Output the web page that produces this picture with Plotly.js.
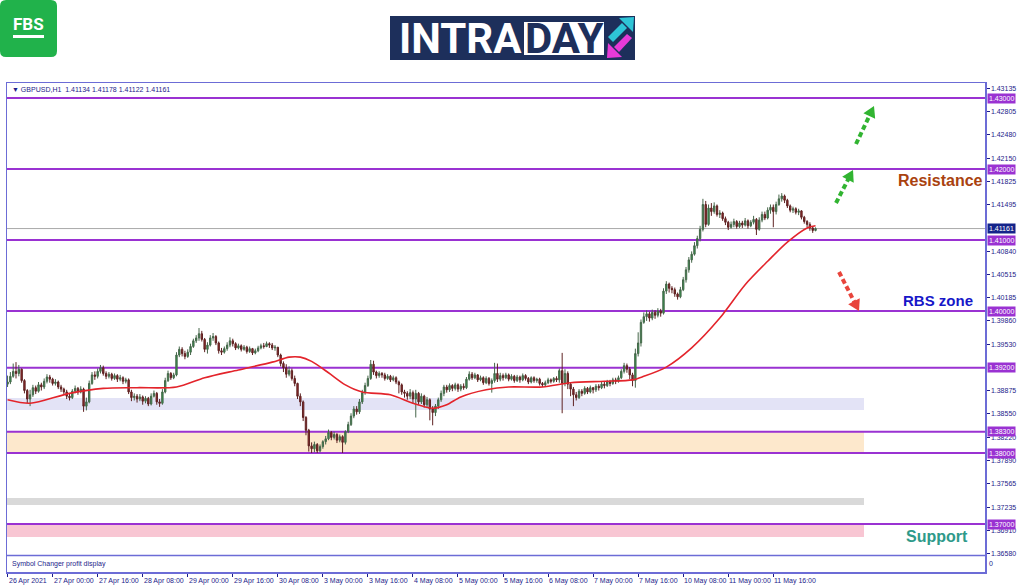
<!DOCTYPE html>
<html><head><meta charset="utf-8">
<script src="https://cdn.plot.ly/plotly-3.0.1.min.js"></script>
<style>html,body{margin:0;padding:0;background:#fff;}#chart{width:1024px;height:587px;}</style>
</head><body><div id="chart"></div>
<script>
// ---- DATA (GBPUSD H1) ----
const firstOpen = 1.3897;
const closes = [
1.3900,1.3908,1.3915,1.3912,1.3918,1.3902,1.3888,1.3876,1.3882,1.3892,1.3887,1.3896,1.3893,1.3901,1.3907,1.3904,
1.3898,1.3900,1.3893,1.3890,1.3886,1.3880,1.3878,1.3887,1.3891,1.3886,1.3890,1.3866,1.3872,1.3898,1.3910,1.3908,
1.3915,1.3920,1.3912,1.3908,1.3911,1.3905,1.3909,1.3904,1.3906,1.3901,1.3903,1.3886,1.3878,1.3880,1.3876,1.3879,
1.3873,1.3877,1.3869,1.3880,1.3884,1.3872,1.3870,1.3886,1.3902,1.3912,1.3906,1.3910,1.3938,1.3946,1.3940,1.3936,
1.3942,1.3950,1.3958,1.3962,1.3968,1.3960,1.3946,1.3952,1.3962,1.3964,1.3955,1.3944,1.3942,1.3947,1.3952,1.3958,
1.3954,1.3948,1.3951,1.3946,1.3949,1.3943,1.3947,1.3941,1.3944,1.3948,1.3951,1.3950,1.3954,1.3952,1.3948,1.3949,
1.3938,1.3926,1.3920,1.3911,1.3916,1.3905,1.3898,1.3880,1.3872,1.3850,1.3832,1.3810,1.3806,1.3812,1.3803,1.3809,
1.3816,1.3820,1.3829,1.3822,1.3826,1.3818,1.3823,1.3815,1.3830,1.3840,1.3852,1.3862,1.3858,1.3872,1.3885,1.3895,
1.3905,1.3925,1.3914,1.3909,1.3912,1.3910,1.3905,1.3908,1.3903,1.3906,1.3900,1.3896,1.3886,1.3884,1.3880,1.3885,
1.3876,1.3884,1.3872,1.3880,1.3868,1.3875,1.3862,1.3857,1.3866,1.3875,1.3884,1.3893,1.3889,1.3895,1.3891,1.3896,
1.3890,1.3894,1.3892,1.3904,1.3911,1.3906,1.3910,1.3903,1.3906,1.3899,1.3905,1.3898,1.3902,1.3912,1.3904,1.3909,
1.3906,1.3910,1.3904,1.3908,1.3902,1.3907,1.3903,1.3909,1.3905,1.3900,1.3906,1.3902,1.3904,1.3898,1.3896,1.3899,
1.3903,1.3901,1.3905,1.3903,1.3916,1.3898,1.3912,1.3897,1.3890,1.3882,1.3878,1.3887,1.3884,1.3891,1.3886,1.3892,
1.3889,1.3894,1.3892,1.3897,1.3895,1.3900,1.3898,1.3903,1.3901,1.3906,1.3915,1.3923,1.3918,1.3910,1.3902,1.3940,
1.3955,1.3984,1.3992,1.3996,1.3990,1.3998,1.3994,1.4000,1.3997,1.4028,1.4038,1.4032,1.4030,1.4024,1.4020,1.4030,
1.4044,1.4058,1.4072,1.4080,1.4092,1.4102,1.4115,1.4150,1.4122,1.4145,1.4140,1.4148,1.4136,1.4138,1.4130,1.4125,
1.4118,1.4122,1.4126,1.4119,1.4124,1.4121,1.4127,1.4120,1.4125,1.4129,1.4115,1.4128,1.4136,1.4131,1.4142,1.4146,
1.4140,1.4150,1.4158,1.4162,1.4156,1.4148,1.4142,1.4144,1.4139,1.4141,1.4132,1.4126,1.4122,1.4117,1.41134,1.41161
];
const highs = [
1.3909,1.3914,1.3926,1.3928,1.3924,1.3919,1.3904,1.3890,1.3889,1.3896,1.3895,1.3900,1.3899,1.3905,1.3911,1.3910,
1.3906,1.3904,1.3902,1.3896,1.3892,1.3889,1.3884,1.3890,1.3895,1.3893,1.3894,1.3892,1.3878,1.3902,1.3914,1.3915,
1.3919,1.3924,1.3923,1.3915,1.3914,1.3913,1.3912,1.3911,1.3910,1.3908,1.3906,1.3905,1.3889,1.3884,1.3883,1.3883,
1.3881,1.3880,1.3879,1.3884,1.3888,1.3886,1.3876,1.3890,1.3906,1.3916,1.3914,1.3913,1.3942,1.3950,1.3949,1.3944,
1.3946,1.3954,1.3961,1.3966,1.3976,1.3972,1.3962,1.3956,1.3966,1.3969,1.3966,1.3957,1.3948,1.3950,1.3956,1.3963,
1.3961,1.3956,1.3954,1.3953,1.3952,1.3951,1.3950,1.3948,1.3947,1.3951,1.3954,1.3955,1.3957,1.3956,1.3955,1.3952,
1.3946,1.3940,1.3929,1.3925,1.3922,1.3919,1.3909,1.3899,1.3884,1.3874,1.3852,1.3834,1.3815,1.3816,1.3814,1.3812,
1.3818,1.3824,1.3833,1.3831,1.3830,1.3828,1.3826,1.3825,1.3832,1.3844,1.3856,1.3866,1.3866,1.3876,1.3889,1.3899,
1.3909,1.3931,1.3930,1.3916,1.3915,1.3914,1.3913,1.3911,1.3910,1.3909,1.3908,1.3902,1.3898,1.3889,1.3887,1.3890,
1.3888,1.3889,1.3886,1.3884,1.3882,1.3879,1.3877,1.3866,1.3869,1.3878,1.3888,1.3896,1.3896,1.3898,1.3897,1.3899,
1.3898,1.3897,1.3898,1.3907,1.3915,1.3914,1.3913,1.3911,1.3909,1.3908,1.3908,1.3907,1.3905,1.3927,1.3926,1.3913,
1.3912,1.3913,1.3912,1.3911,1.3910,1.3910,1.3909,1.3912,1.3911,1.3907,1.3908,1.3908,1.3906,1.3906,1.3900,1.3902,
1.3906,1.3905,1.3907,1.3908,1.3919,1.3941,1.3918,1.3915,1.3899,1.3893,1.3886,1.3890,1.3890,1.3894,1.3893,1.3895,
1.3893,1.3897,1.3897,1.3900,1.3900,1.3903,1.3903,1.3906,1.3906,1.3909,1.3918,1.3927,1.3926,1.3921,1.3913,1.3947,
1.3970,1.3988,1.3998,1.4001,1.3999,1.4002,1.4001,1.4004,1.4003,1.4032,1.4042,1.4040,1.4035,1.4033,1.4026,1.4034,
1.4048,1.4062,1.4076,1.4084,1.4097,1.4106,1.4120,1.4158,1.4155,1.4150,1.4152,1.4153,1.4150,1.4142,1.4140,1.4133,
1.4127,1.4126,1.4130,1.4128,1.4127,1.4127,1.4131,1.4129,1.4128,1.4134,1.4131,1.4132,1.4140,1.4140,1.4146,1.4150,
1.4150,1.4154,1.4164,1.4166,1.4164,1.4158,1.4150,1.4147,1.4146,1.4144,1.4142,1.4134,1.4128,1.4125,1.4119,1.41178
];
const lows = [
1.3893,1.3897,1.3906,1.3905,1.3908,1.3899,1.3884,1.3870,1.3866,1.3879,1.3883,1.3885,1.3888,1.3890,1.3898,1.3899,
1.3895,1.3895,1.3890,1.3886,1.3882,1.3876,1.3874,1.3876,1.3884,1.3882,1.3884,1.3858,1.3860,1.3870,1.3896,1.3903,
1.3905,1.3912,1.3909,1.3904,1.3905,1.3902,1.3903,1.3900,1.3901,1.3897,1.3898,1.3883,1.3873,1.3874,1.3871,1.3873,
1.3868,1.3870,1.3866,1.3867,1.3878,1.3868,1.3865,1.3868,1.3884,1.3900,1.3903,1.3904,1.3908,1.3935,1.3936,1.3932,
1.3934,1.3938,1.3948,1.3955,1.3958,1.3957,1.3942,1.3940,1.3950,1.3958,1.3952,1.3940,1.3938,1.3940,1.3944,1.3949,
1.3950,1.3945,1.3946,1.3943,1.3944,1.3940,1.3941,1.3938,1.3939,1.3942,1.3946,1.3947,1.3949,1.3948,1.3945,1.3944,
1.3935,1.3922,1.3914,1.3906,1.3908,1.3902,1.3894,1.3876,1.3866,1.3845,1.3825,1.3802,1.3800,1.3801,1.3800,1.3801,
1.3806,1.3812,1.3818,1.3818,1.3819,1.3814,1.3815,1.3800,1.3812,1.3828,1.3838,1.3849,1.3854,1.3855,1.3869,1.3882,
1.3893,1.3903,1.3910,1.3905,1.3906,1.3906,1.3902,1.3903,1.3900,1.3901,1.3897,1.3884,1.3882,1.3878,1.3875,1.3876,
1.3870,1.3850,1.3868,1.3869,1.3864,1.3864,1.3846,1.3839,1.3852,1.3862,1.3872,1.3880,1.3885,1.3886,1.3887,1.3888,
1.3886,1.3887,1.3889,1.3890,1.3902,1.3903,1.3904,1.3900,1.3901,1.3896,1.3897,1.3895,1.3885,1.3899,1.3900,1.3901,
1.3902,1.3904,1.3901,1.3902,1.3899,1.3900,1.3899,1.3901,1.3902,1.3897,1.3898,1.3899,1.3899,1.3895,1.3893,1.3894,
1.3897,1.3898,1.3899,1.3900,1.3899,1.3856,1.3894,1.3890,1.3880,1.3866,1.3874,1.3876,1.3880,1.3882,1.3883,1.3884,
1.3884,1.3886,1.3888,1.3890,1.3891,1.3893,1.3894,1.3896,1.3897,1.3899,1.3904,1.3912,1.3913,1.3904,1.3894,1.3892,
1.3936,1.3950,1.3982,1.3986,1.3985,1.3987,1.3989,1.3991,1.3992,1.3995,1.4024,1.4026,1.4025,1.4020,1.4016,1.4018,
1.4028,1.4040,1.4054,1.4068,1.4078,1.4088,1.4098,1.4112,1.4118,1.4120,1.4134,1.4137,1.4133,1.4131,1.4127,1.4121,
1.4114,1.4116,1.4118,1.4116,1.4117,1.4117,1.4119,1.4116,1.4118,1.4122,1.4107,1.4113,1.4125,1.4128,1.4129,1.4137,
1.4118,1.4136,1.4148,1.4154,1.4152,1.4145,1.4139,1.4138,1.4136,1.4135,1.4129,1.4123,1.4118,1.4113,1.4110,1.41122
];
// moving average (red line), sampled at bar indices
const maBar   = [0,8,22,34,46,60,70,82,94,100,104,108,114,120,126,136,144,151,156,161,170,178,190,200,212,222,226,234,243,253,262,270,277,284,287];
const maValue = [1.3875,1.3870,1.3884,1.3891,1.3892,1.3893,1.3906,1.3917,1.3928,1.3935,1.3935,1.3929,1.3913,1.3896,1.3886,1.3882,1.3870,1.3863,1.3868,1.3879,1.3889,1.3893,1.3893,1.3899,1.3901,1.3903,1.3908,1.3921,1.3948,1.3990,1.4037,1.4070,1.4097,1.4117,1.4120];
const timeLabels = ["26 Apr 2021","27 Apr 00:00","27 Apr 16:00","28 Apr 08:00","29 Apr 00:00","29 Apr 16:00","30 Apr 08:00","3 May 00:00","3 May 16:00","4 May 08:00","5 May 00:00","5 May 16:00","6 May 08:00","7 May 00:00","7 May 16:00","10 May 08:00","11 May 00:00","11 May 16:00"];
const barsPerLabel = 16;
const priceTicks = [1.43135,1.42805,1.42480,1.42150,1.41825,1.41495,1.40840,1.40515,1.40185,1.39860,1.39530,1.38875,1.38550,1.38220,1.37890,1.37565,1.37235,1.36910,1.36580];
const keyLevels = [1.43000,1.42000,1.41000,1.40000,1.39200,1.38300,1.38000,1.37000];
const lastPrice = 1.41161;
const zoneLow  = [1.38606,1.38000,1.37268,1.36817];
const zoneHigh = [1.38775,1.38300,1.37366,1.37000];
const headerText = "\u25BC GBPUSD,H1  1.41134 1.41178 1.41122 1.41161";
const subPaneText = "Symbol Changer profit display";

// ---- STYLE / GEOMETRY ----
const zoneColor = ['#e3e3f6','#fde8cc','#d9d9d9','#f8c6d3'];
const frameColor = '#6c6cd6', navy = '#1c1c8a', purple = '#9a32d2';
const L=7,R=985,T=83,B=572,W=R-L,H=B-T;
const px = x => (x-L)/W, py = y => (B-y)/H;
const poly = pts => 'M' + pts.map(p => px(p[0]) + ',' + py(p[1])).join(' L') + ' Z';
function rrect(x0,y0,x1,y1,r){
  return `M${px(x0+r)},${py(y0)} L${px(x1-r)},${py(y0)} Q${px(x1)},${py(y0)} ${px(x1)},${py(y0+r)} L${px(x1)},${py(y1-r)} Q${px(x1)},${py(y1)} ${px(x1-r)},${py(y1)} L${px(x0+r)},${py(y1)} Q${px(x0)},${py(y1)} ${px(x0)},${py(y1-r)} L${px(x0)},${py(y0+r)} Q${px(x0)},${py(y0)} ${px(x0+r)},${py(y0)} Z`;
}

const idx = closes.map((_, i) => i);
const opens = closes.map((c, i) => i === 0 ? firstOpen : closes[i-1]);
const hi = highs.map((h, i) => Math.max(h, opens[i], closes[i]));
const lo = lows.map((l, i) => Math.min(l, opens[i], closes[i]));

const traces = [
  {type:'candlestick', x: idx, open: opens, high: hi, low: lo, close: closes,
   increasing:{line:{color:'#46664a', width:1}, fillcolor:'#2f9a4c'},
   decreasing:{line:{color:'#5e2222', width:1}, fillcolor:'#962828'},
   whiskerwidth:0, hoverinfo:'skip', showlegend:false},
  {type:'scatter', mode:'lines', x: maBar, y: maValue, line:{color:'#e3242b', width:1.6, shape:'spline', smoothing:0.8}, hoverinfo:'skip', showlegend:false}
];

const shapes = [];
zoneLow.forEach((v, k) => shapes.push({type:'rect', xref:'paper', yref:'y', x0:0, x1:px(864), y0:v, y1:zoneHigh[k], fillcolor:zoneColor[k], line:{width:0}, layer:'below'}));
shapes.push({type:'line', xref:'paper', yref:'y', x0:0, x1:1, y0:lastPrice, y1:lastPrice, line:{color:'#a8a8a8', width:1}, layer:'below'});
keyLevels.forEach(v => shapes.push({type:'line', xref:'paper', yref:'y', x0:0, x1:1, y0:v, y1:v, line:{color:purple, width:2}, layer:'below'}));
shapes.push({type:'line', xref:'paper', yref:'paper', x0:0, x1:1, y0:py(555.5), y1:py(555.5), line:{color:frameColor, width:1.5}});

// dashed arrows
function arrow(x0,y0,x1,y1,color){
  const dx=x1-x0, dy=y1-y0, len=Math.hypot(dx,dy), ux=dx/len, uy=dy/len, hl=11, hw=6.5;
  const bx=x1-ux*hl, by=y1-uy*hl;
  shapes.push({type:'line', xref:'paper', yref:'paper', x0:px(x0), y0:py(y0), x1:px(bx+ux), y1:py(by+uy), line:{color, width:4, dash:'5px,3px'}});
  shapes.push({type:'path', xref:'paper', yref:'paper', path:poly([[x1,y1],[bx-uy*hw,by+ux*hw],[bx+uy*hw,by-ux*hw]]), fillcolor:color, line:{width:0}});
}
arrow(836,203,853,170,'#31b431');
arrow(856,144,874,106,'#31b431');
arrow(839,272,859,311,'#e8453c');

// logos
shapes.push({type:'path', xref:'paper', yref:'paper', path:rrect(0,0,57,57,6), fillcolor:'#21b24b', line:{width:0}});
shapes.push({type:'rect', xref:'paper', yref:'paper', x0:px(13), x1:px(44), y0:py(35), y1:py(38), fillcolor:'#ffffff', line:{width:0}});
shapes.push({type:'rect', xref:'paper', yref:'paper', x0:px(390), x1:px(635), y0:py(16), y1:py(60), fillcolor:'#1d2f5b', line:{width:0}});
shapes.push({type:'rect', xref:'paper', yref:'paper', x0:px(524), x1:px(604), y0:py(22), y1:py(55), fillcolor:'#ffffff', line:{width:0}});
shapes.push({type:'path', xref:'paper', yref:'paper', path:poly([[608,37],[613,42],[627,28],[622,23]]), fillcolor:'#2ec4d6', line:{width:0}});
shapes.push({type:'path', xref:'paper', yref:'paper', path:poly([[634,17],[619,18],[633,32]]), fillcolor:'#2ec4d6', line:{width:0}});
shapes.push({type:'path', xref:'paper', yref:'paper', path:poly([[632,38],[627,34],[614,47],[619,52]]), fillcolor:'#e83ad8', line:{width:0}});
shapes.push({type:'path', xref:'paper', yref:'paper', path:poly([[607,58],[608,43],[622,57]]), fillcolor:'#e83ad8', line:{width:0}});

const fnt = (size, color, weight) => ({family:'Liberation Sans, Arial, sans-serif', size, color, weight: weight || 400});
const annotations = [];
keyLevels.forEach(v => annotations.push({xref:'paper', yref:'y', x:1, y:v, xanchor:'left', xshift:2, text:v.toFixed(5), showarrow:false, bgcolor:purple, borderpad:1, font:fnt(7,'#ffffff')}));
annotations.push({xref:'paper', yref:'y', x:1, y:lastPrice, xanchor:'left', xshift:2, text:lastPrice.toFixed(5), showarrow:false, bgcolor:'#14238a', borderpad:1, font:fnt(7,'#ffffff')});
timeLabels.forEach((t, k) => annotations.push({xref:'x', yref:'paper', x:k*barsPerLabel, y:0, yanchor:'top', yshift:-3, xanchor:'left', xshift:-1, text:t, showarrow:false, font:fnt(7, navy)}));
annotations.push({xref:'paper', yref:'paper', x:px(10), y:py(89), xanchor:'left', yanchor:'middle', text:headerText, showarrow:false, font:fnt(7, navy)});
annotations.push({xref:'paper', yref:'paper', x:px(10), y:py(564), xanchor:'left', yanchor:'middle', text:subPaneText, showarrow:false, font:fnt(7, navy)});
annotations.push({xref:'paper', yref:'paper', x:1, xshift:2, y:py(563), xanchor:'left', yanchor:'middle', text:'0', showarrow:false, font:fnt(7, navy)});
annotations.push({xref:'paper', yref:'paper', x:px(985), y:py(180), xanchor:'right', yanchor:'middle', text:'Resistance', showarrow:false, font:fnt(16,'#a9420f',700)});
annotations.push({xref:'paper', yref:'paper', x:px(975), y:py(300), xanchor:'right', yanchor:'middle', text:'RBS zone', showarrow:false, font:fnt(15,'#1717c8',700)});
annotations.push({xref:'paper', yref:'paper', x:px(970), y:py(536), xanchor:'right', yanchor:'middle', text:'Support', showarrow:false, font:fnt(16,'#2e9a8a',700)});
annotations.push({xref:'paper', yref:'paper', x:px(28), y:py(24), xanchor:'center', yanchor:'middle', text:'FBS', showarrow:false, font:{family:'Roboto, Liberation Sans, sans-serif', size:17, color:'#ffffff', weight:700}});
annotations.push({xref:'paper', yref:'paper', x:px(397), y:py(39), xanchor:'left', yanchor:'middle', text:'INTRA', showarrow:false, font:{family:'Roboto, Liberation Sans, sans-serif', size:42, color:'#ffffff', weight:700}});
annotations.push({xref:'paper', yref:'paper', x:px(564), y:py(39), xanchor:'center', yanchor:'middle', text:'DAY', showarrow:false, font:{family:'Roboto, Liberation Sans, sans-serif', size:42, color:'#1d2f5b', weight:700}});

const layout = {
  width:1024, height:587, margin:{l:L, r:1024-R, t:T, b:587-B, pad:0},
  paper_bgcolor:'#ffffff', plot_bgcolor:'#ffffff', showlegend:false, hovermode:false,
  xaxis:{range:[-0.2,347.2], showgrid:false, zeroline:false, showline:true, mirror:true, linecolor:frameColor, linewidth:1.5,
         ticks:'outside', ticklen:3, tickcolor:navy, tickvals:timeLabels.map((_, k) => k*barsPerLabel), showticklabels:false,
         rangeslider:{visible:false}, fixedrange:true},
  yaxis:{range:[1.363239,1.432113], side:'right', showgrid:false, zeroline:false, showline:true, mirror:true, linecolor:frameColor, linewidth:1.5,
         ticks:'outside', ticklen:3, tickcolor:navy, tickvals:priceTicks, ticktext:priceTicks.map(v => v.toFixed(5)),
         tickfont:fnt(7, navy), fixedrange:true},
  shapes, annotations
};
Plotly.newPlot('chart', traces, layout, {displayModeBar:false, staticPlot:true});
</script></body></html>
